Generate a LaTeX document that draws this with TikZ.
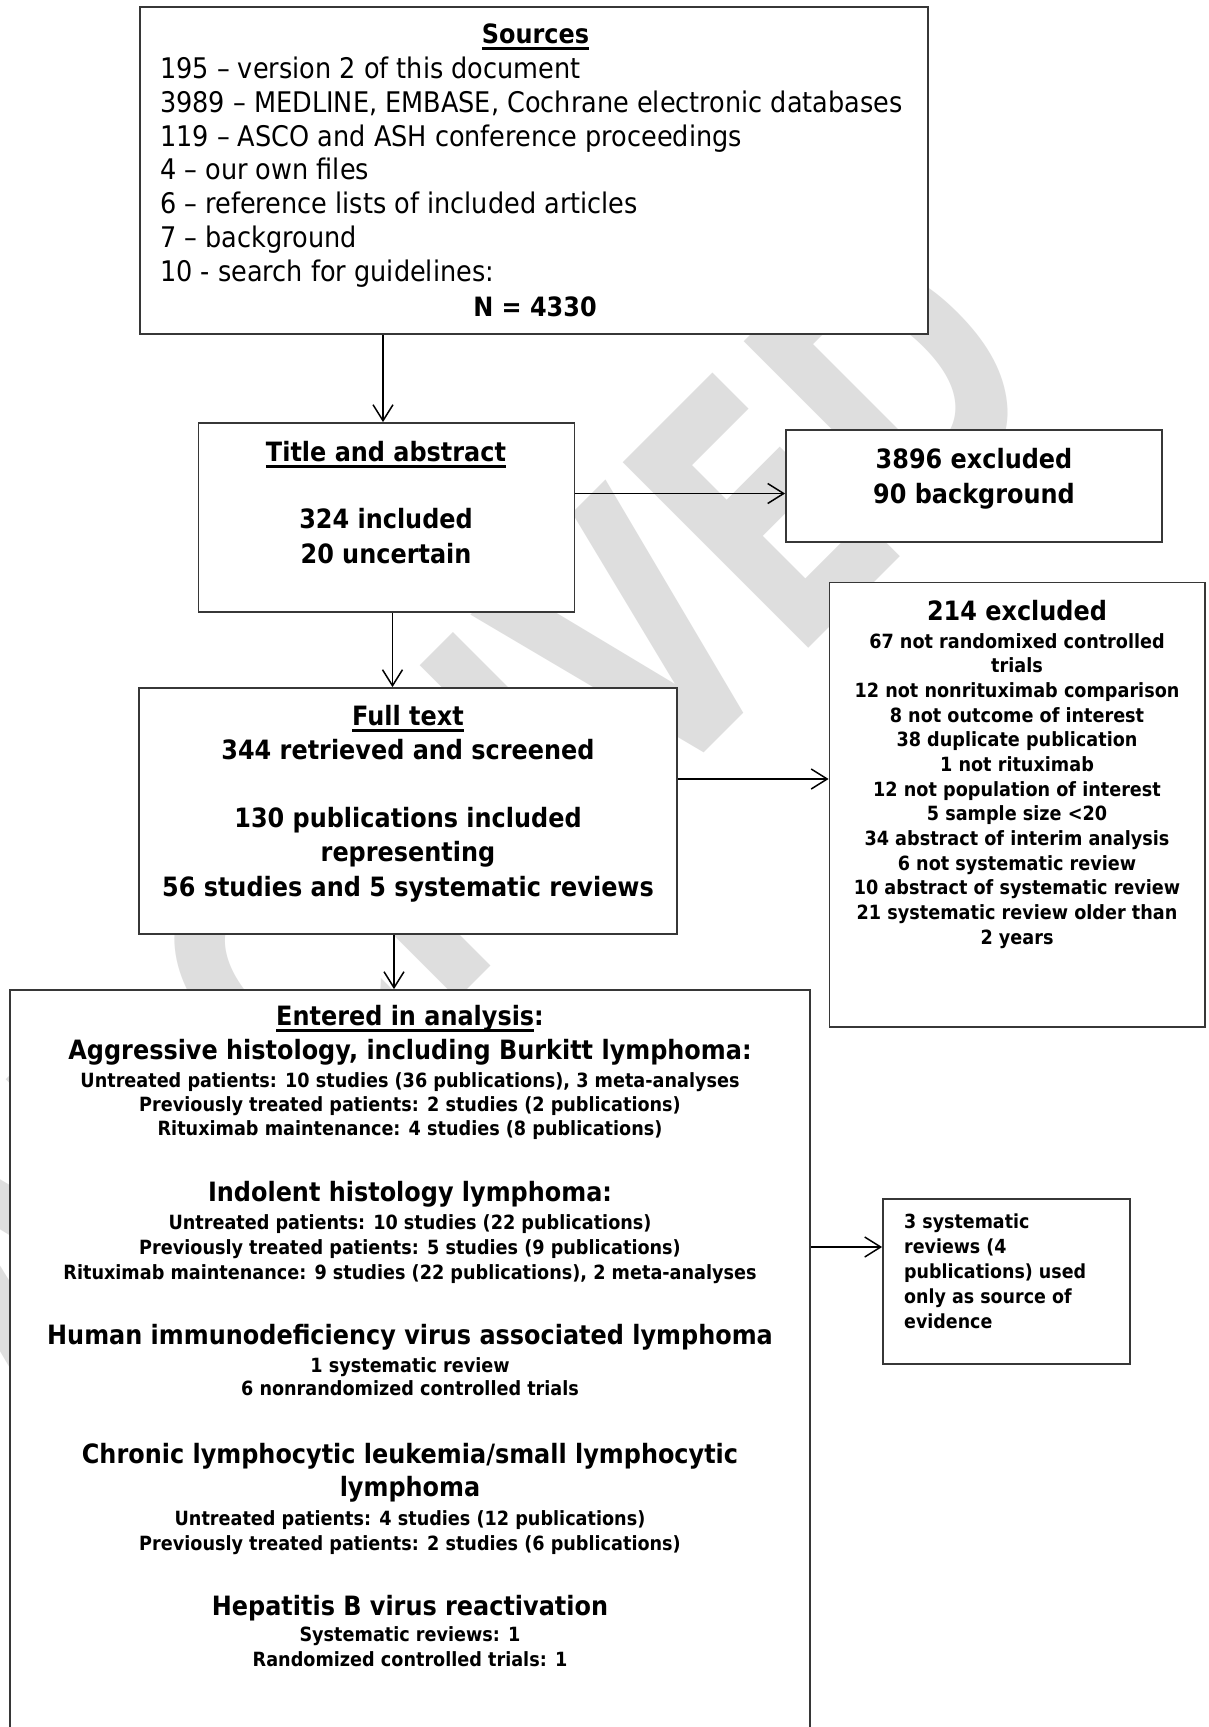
\documentclass[tikz,border=0pt]{standalone}
\usepackage{fontspec}
\setmainfont{DejaVu Sans}[FakeStretch=0.9]
\usetikzlibrary{arrows.meta,calc}
\definecolor{wmgray}{RGB}{222,222,222}
\definecolor{boxline}{RGB}{55,55,55}
\newcommand{\myul}[1]{\setbox0\hbox{#1}\rlap{\vrule height -0.14em depth 0.25em width \wd0}\copy0}
\begin{document}
\begin{tikzpicture}[x=1pt,y=-1pt,
  box/.style={draw=boxline, line width=1.8pt, fill=white, inner sep=0pt},
  arr/.style={line width=1.5pt, -{Straight Barb[length=16pt,width=20pt]}},
  reg/.style={inner sep=0pt, anchor=base west, font=\fontsize{28.4}{34}\selectfont},
  big/.style={inner sep=0pt, anchor=base, font=\bfseries\fontsize{26.6}{32}\selectfont},
  sm/.style={inner sep=0pt, anchor=base, font=\bfseries\fontsize{19.6}{24}\selectfont},
  smw/.style={inner sep=0pt, anchor=base west, font=\bfseries\fontsize{19.4}{24}\selectfont},
  wmk/.style={inner sep=0pt, text=wmgray, font=\bfseries\fontsize{360}{360}\selectfont}
]
\useasboundingbox (0,0) rectangle (1209,1727);
\fill[white] (0,0) rectangle (1209,1727);
% watermark
\node[wmk, rotate=45, anchor=base west] (wm) at (38.5,1418.5) {\scalebox{0.772}[1]{ARCHIVED}};

% boxes
\node[box, minimum width=788pt, minimum height=327pt] (src) at (534,170.5) {};
\node[box, minimum width=376pt, minimum height=189pt] (title) at (386.5,517.5) {};
\node[box, minimum width=376pt, minimum height=112pt] (excl) at (974,486) {};
\node[box, minimum width=538pt, minimum height=246pt] (full) at (408,811) {};
\node[box, minimum width=375.5pt, minimum height=444.5pt] (ex214) at (1017.25,804.75) {};
\node[box, minimum width=800pt, minimum height=755pt] (ent) at (410,1367.5) {};
\node[box, minimum width=247pt, minimum height=165pt] (sys) at (1006.5,1281.5) {};

% Sources text
\node[big] (srch) at (535.5,43) {\myul{Sources}};
\node[reg] (s1t) at (160,78.3) {195 – version 2 of this document};
\node[reg] (s2t) at (160,112.2) {3989 – MEDLINE, EMBASE, Cochrane electronic databases};
\node[reg] (s3t) at (160,146) {119 – ASCO and ASH conference proceedings};
\node[reg] (s4t) at (160,179.9) {4 – our own files};
\node[reg] (s5t) at (160,213.7) {6 – reference lists of included articles};
\node[reg] (s6t) at (160,247.6) {7 – background};
\node[reg] (s7t) at (160,281.4) {10 - search for guidelines:};
\node[big] (snt) at (535,316) {N = 4330};

% Title and abstract
\node[big] (t1t) at (386,461.7) {\myul{Title and abstract}};
\node[big] (t2t) at (386,528) {324 included};
\node[big] (t3t) at (386,563) {20 uncertain};

% Excluded
\node[big] (e1t) at (974,468.5) {3896 excluded};
\node[big] (e2t) at (974,503.7) {90 background};

% Full text
\node[big] (f1t) at (408,725) {\myul{Full text}};
\node[big] (f2t) at (408,759.3) {344 retrieved and screened};
\node[big] (f3t) at (408,827.7) {130 publications included};
\node[big] (f4t) at (408,861.7) {representing};
\node[big] (f5t) at (408,896.7) {56 studies and 5 systematic reviews};

% 214 excluded
\node[big] (x0t) at (1017,620) {214 excluded};
\foreach \t [count=\i from 0] in {67 not randomixed controlled, trials, 12 not nonrituximab comparison, 8 not outcome of interest, 38 duplicate publication, 1 not rituximab, 12 not population of interest, 5 sample size <20, 34 abstract of interim analysis, 6 not systematic review, 10 abstract of systematic review, 21 systematic review older than, 2 years}
  \node[sm] (x\i t) at (1017,648+24.67*\i) {\t};

% Entered in analysis
\node[big] (a0t) at (410,1025.7) {\myul{Entered in analysis}:};
\node[big] (a1t) at (410,1059) {Aggressive histology, including Burkitt lymphoma:};
\node[sm] (a2t) at (410,1087) {Untreated patients: 10 studies (36 publications), 3 meta-analyses};
\node[sm] (a3t) at (410,1111.7) {Previously treated patients: 2 studies (2 publications)};
\node[sm] (a4t) at (410,1135.7) {Rituximab maintenance: 4 studies (8 publications)};
\node[big] (b1t) at (410,1201.7) {Indolent histology lymphoma:};
\node[sm] (b2t) at (410,1229.7) {Untreated patients: 10 studies (22 publications)};
\node[sm] (b3t) at (410,1254) {Previously treated patients: 5 studies (9 publications)};
\node[sm] (b4t) at (410,1279) {Rituximab maintenance: 9 studies (22 publications), 2 meta-analyses};
\node[big] (c1t) at (410,1344) {Human immunodeficiency virus associated lymphoma};
\node[sm] (c2t) at (410,1372.3) {1 systematic review};
\node[sm] (c3t) at (410,1395.7) {6 nonrandomized controlled trials};
\node[big] (d1t) at (410,1463) {Chronic lymphocytic leukemia/small lymphocytic};
\node[big] (d2t) at (410,1496.7) {lymphoma};
\node[sm] (d3t) at (410,1525) {Untreated patients: 4 studies (12 publications)};
\node[sm] (d4t) at (410,1550) {Previously treated patients: 2 studies (6 publications)};
\node[big] (h1t) at (410,1615) {Hepatitis B virus reactivation};
\node[sm] (h2t) at (410,1641.7) {Systematic reviews: 1};
\node[sm] (h3t) at (410,1666.7) {Randomized controlled trials: 1};

% 3 systematic reviews
\node[smw] (r1t) at (904,1228.3) {3 systematic};
\node[smw] (r2t) at (904,1253.3) {reviews (4};
\node[smw] (r3t) at (904,1278.3) {publications) used};
\node[smw] (r4t) at (904,1303.3) {only as source of};
\node[smw] (r5t) at (904,1328.3) {evidence};

% connectors
\coordinate (c1) at ([xshift=-3.5pt]title.north);
\draw[arr] (c1 |- src.south) -- (c1);
\coordinate (c2) at ([yshift=-7.5pt]excl.west);
\draw[arr] (title.east |- c2) -- (c2);
\coordinate (c3) at ([xshift=6pt]title.south);
\draw[arr] (c3) -- (c3 |- full.north);
\coordinate (c4) at ([yshift=25.75pt]ex214.west);
\draw[arr] (full.east |- c4) -- (c4);
\coordinate (c5) at ([xshift=-14pt]full.south);
\draw[arr] (c5) -- (c5 |- ent.north);
\coordinate (c6) at ([yshift=34.5pt]sys.west);
\draw[arr] (ent.east |- c6) -- (c6);
\end{tikzpicture}
\end{document}
